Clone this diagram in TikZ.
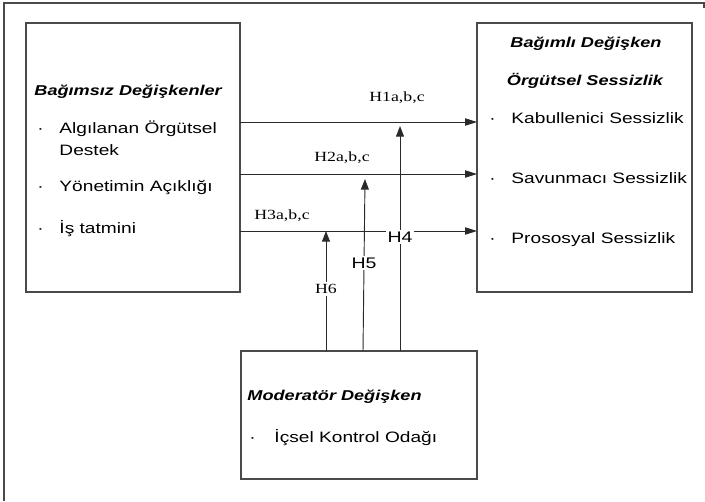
\documentclass[tikz,border=0pt]{standalone}
\usepackage{fontspec}
\setmainfont{Liberation Sans}[FakeStretch=1.27]
\newfontfamily\hfont{Liberation Serif}[FakeStretch=1.27]
\usetikzlibrary{arrows.meta}
\definecolor{boxgray}{HTML}{4A4A4A}
\definecolor{linegray}{HTML}{2A2A2A}

\begin{document}
\begin{tikzpicture}[x=0.75pt,y=-0.75pt,
  line width=0.7pt,
  box/.style={draw=boxgray, line width=0.9pt, inner sep=0pt, outer sep=0pt},
  txt/.style={inner sep=0pt, anchor=base west, font=\fontsize{11.3}{13}\selectfont},
  headtxt/.style={inner sep=0pt, font=\fontsize{10.7}{13}\selectfont\bfseries\itshape},
  hyp/.style={inner sep=1.5pt, font=\hfont\fontsize{10.5}{12}\selectfont},
  hyps/.style={inner sep=1.5pt, fill=white, font=\fontsize{11.5}{13}\selectfont},
  link/.style={draw=linegray, -{Triangle[length=9pt,width=5.5pt]}},
  uplink/.style={draw=linegray, -{Triangle[length=8pt,width=6pt]}}
]
\useasboundingbox (0,0) rectangle (705,501);

% outer frame
\draw[boxgray, line width=1pt] (704,8) -- (704,3) -- (4,3) -- (4,501);

% the three variable boxes
\node[box, minimum width=160.5pt, minimum height=201.75pt] (indep) at (133,157.5) {};
\node[box, minimum width=161.25pt, minimum height=201.75pt] (dep) at (584.5,157.5) {};
\node[box, minimum width=177pt, minimum height=96pt] (moder) at (359,415) {};

% independent variables
\node[headtxt, anchor=base west] (indephead) at (34,95) {Bağımsız Değişkenler};
\node[txt] (ib1) at (37,133) {·};
\node[txt] (i1) at (59,133) {Algılanan Örgütsel};
\node[txt] (i1b) at (59,155) {Destek};
\node[txt] (ib2) at (37,191) {·};
\node[txt] (i2) at (59,191) {Yönetimin Açıklığı};
\node[txt] (ib3) at (37,233) {·};
\node[txt] (i3) at (59,233) {İş tatmini};

% dependent variables
\node[headtxt, anchor=base] (dephead) at (586,47) {Bağımlı Değişken};
\node[headtxt, anchor=base] (depsub) at (585,85) {Örgütsel Sessizlik};
\node[txt] (db1) at (489,123) {·};
\node[txt] (d1) at (511,123) {Kabullenici Sessizlik};
\node[txt] (db2) at (489,183) {·};
\node[txt] (d2) at (511,183) {Savunmacı Sessizlik};
\node[txt] (db3) at (489,243) {·};
\node[txt] (d3) at (511,243) {Prososyal Sessizlik};

% moderator
\node[headtxt, anchor=base west] (modhead) at (247,400) {Moderatör Değişken};
\node[txt] (mb1) at (249,442) {·};
\node[txt] (m1) at (274,442) {İçsel Kontrol Odağı};

% direct hypotheses
\coordinate (r1) at (0,122);
\coordinate (r2) at (0,174);
\coordinate (r3) at (0,231);
\draw[link] (indep.east |- r1) -- (dep.west |- r1);
\draw[link] (indep.east |- r2) -- (dep.west |- r2);
\draw[link] (indep.east |- r3) -- (dep.west |- r3);
\node[hyp] (h1) at (397,98) {H1a,b,c};
\node[hyp] (h2) at (342,158) {H2a,b,c};
\node[hyp] (h3) at (282,216) {H3a,b,c};

% moderating hypotheses
\coordinate (t4) at (400,126);
\coordinate (t5) at (365,179);
\coordinate (t6) at (326,231);
\draw[uplink] (moder.north -| t4) -- (t4);
\draw[uplink] (363,351) -- (t5);
\draw[uplink] (moder.north -| t6) -- (t6);
\node[hyps] (h4) at (400,237) {H4};
\node[hyps] (h5) at (364,263) {H5};
\node[hyp, fill=white] (h6) at (326,289) {H6};
\end{tikzpicture}
\end{document}
